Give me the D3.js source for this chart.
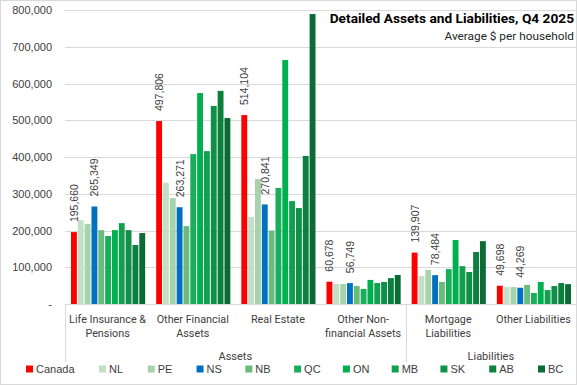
<!DOCTYPE html>
<html>
<head>
<meta charset="utf-8">
<script src="https://cdn.jsdelivr.net/npm/d3@7"></script>
<style>
  body { margin: 0; background: #fff; }
  svg { display: block; }
</style>
</head>
<body>
<div id="chart"></div>
<script>
// categories and series
var categories = [
  ["Life Insurance &", "Pensions"],
  ["Other Financial", "Assets"],
  ["Real Estate"],
  ["Other Non-", "financial Assets"],
  ["Mortgage", "Liabilities"],
  ["Other Liabilities"]
];
var groups = ["Assets", "Liabilities"];
var groupSpans = [[0, 3], [4, 5]]; // first and last category of each group
var regions = ["Canada", "NL", "PE", "NS", "NB", "QC", "ON", "MB", "SK", "AB", "BC"];
var colors = ["#ff0000", "#c3e0c6", "#a6d3ab", "#0070c0", "#6cbb7e", "#1aae5c", "#00b050", "#12a04f", "#0f9046", "#0d8040", "#0b6b35"];

var Canada = [195660, 497806, 514104, 60678, 139907, 49698];
var NL = [228000, 330000, 237000, 54500, 76000, 46000];
var PE = [218000, 288000, 340000, 54500, 92500, 46000];
var NS = [265349, 263271, 270841, 56749, 78484, 44269];
var NB = [201000, 212000, 200000, 49000, 60000, 52000];
var QC = [185000, 408000, 316000, 41000, 95000, 30000];
var ON = [201000, 574000, 664000, 65500, 174000, 60000];
var MB = [220000, 416000, 280000, 57000, 103000, 38000];
var SK = [201000, 539000, 261000, 60000, 87000, 49000];
var AB = [160500, 580000, 403000, 70500, 141500, 57000];
var BC = [193000, 506000, 789000, 79000, 171000, 54000];
var seriesValues = [Canada, NL, PE, NS, NB, QC, ON, MB, SK, AB, BC];
var labelledSeries = ["Canada", "NS"];
var yTicks = [0, 100000, 200000, 300000, 400000, 500000, 600000, 700000, 800000];

var width = 577, height = 385;
var margin = {top: 10, right: 1, bottom: 81, left: 65};
var plotW = width - margin.left - margin.right;
var plotH = height - margin.top - margin.bottom;
var numFont = "'Liberation Sans', Arial, sans-serif";
var txtFont = "Roboto, 'Open Sans', sans-serif";
var gridColor = "#d9d9d9";

var svg = d3.select("#chart").append("svg")
  .attr("width", width)
  .attr("height", height);

// chart border
svg.append("rect")
  .attr("x", 0.5).attr("y", 0.5)
  .attr("width", width - 1).attr("height", height - 1)
  .attr("fill", "#fff").attr("stroke", gridColor);

var g = svg.append("g").attr("transform", "translate(" + margin.left + "," + margin.top + ")");

var y = d3.scaleLinear().domain([0, 800000]).range([plotH, 0]);
var x0 = d3.scaleBand().domain(d3.range(categories.length)).range([0, plotW]).padding(0);
var x1 = d3.scaleBand().domain(regions).range([6, x0.bandwidth() - 5]).paddingInner(0.14);

// gridlines
g.selectAll(".grid").data(yTicks.slice(1)).enter().append("line")
  .attr("x1", 0).attr("x2", plotW)
  .attr("y1", function(d) { return Math.round(y(d)) + 0.5; })
  .attr("y2", function(d) { return Math.round(y(d)) + 0.5; })
  .attr("stroke", gridColor);

// y axis labels
var yAxis = g.append("g")
  .call(d3.axisLeft(y).tickValues(yTicks).tickSize(0).tickPadding(13)
    .tickFormat(function(d) { return d === 0 ? "-  " : d3.format(",")(d); }));
yAxis.select(".domain").remove();
yAxis.selectAll("text")
  .attr("font-family", numFont).attr("font-size", 11).attr("fill", "#404040");

// bars
var rows = [];
seriesValues.forEach(function(vals, si) {
  vals.forEach(function(v, ci) {
    rows.push({region: regions[si], color: colors[si], cat: ci, value: v});
  });
});

g.selectAll(".bar").data(rows).enter().append("rect")
  .attr("x", function(d) { return x0(d.cat) + x1(d.region); })
  .attr("y", function(d) { return y(d.value); })
  .attr("width", x1.bandwidth())
  .attr("height", function(d) { return plotH - y(d.value); })
  .attr("fill", function(d) { return d.color; });

// rotated data labels on Canada and NS
g.selectAll(".lbl").data(rows.filter(function(d) { return labelledSeries.indexOf(d.region) >= 0; }))
  .enter().append("text")
  .attr("transform", function(d) {
    var cx = x0(d.cat) + x1(d.region) + x1.bandwidth() / 2 + 4;
    return "translate(" + cx + "," + (y(d.value) - 10) + ") rotate(-90)";
  })
  .attr("font-family", numFont).attr("font-size", 10.5).attr("fill", "#404040")
  .text(function(d) { return d3.format(",")(d.value); });

// category axis
g.append("line")
  .attr("x1", 0).attr("x2", plotW)
  .attr("y1", plotH + 0.5).attr("y2", plotH + 0.5)
  .attr("stroke", gridColor);

var sepX = [0, x0(groupSpans[1][0])];
g.selectAll(".sep").data(sepX).enter().append("line")
  .attr("x1", function(d) { return Math.round(d) + 0.5; })
  .attr("x2", function(d) { return Math.round(d) + 0.5; })
  .attr("y1", plotH).attr("y2", plotH + 58)
  .attr("stroke", gridColor);

var catLabels = g.selectAll(".cat").data(categories).enter().append("text")
  .attr("x", function(d, i) { return x0(i) + x0.bandwidth() / 2; })
  .attr("y", plotH + 19)
  .attr("text-anchor", "middle")
  .attr("font-family", txtFont).attr("font-size", 10.8).attr("fill", "#404040");
catLabels.selectAll("tspan").data(function(d) { return d; }).enter().append("tspan")
  .attr("x", function() { return d3.select(this.parentNode).attr("x"); })
  .attr("dy", function(d, i) { return i === 0 ? 0 : 14; })
  .text(function(d) { return d; });

g.selectAll(".grp").data(groups).enter().append("text")
  .attr("x", function(d, i) {
    var s = groupSpans[i];
    return (x0(s[0]) + x0(s[1]) + x0.bandwidth()) / 2;
  })
  .attr("y", plotH + 56)
  .attr("text-anchor", "middle")
  .attr("font-family", txtFont).attr("font-size", 11).attr("fill", "#404040")
  .text(function(d) { return d; });

// title
svg.append("text")
  .attr("x", 574).attr("y", 23)
  .attr("text-anchor", "end")
  .attr("font-family", txtFont).attr("font-size", 13.7).attr("font-weight", "bold").attr("fill", "#000")
  .text("Detailed Assets and Liabilities, Q4 2025");
svg.append("text")
  .attr("x", 574).attr("y", 39.5)
  .attr("text-anchor", "end")
  .attr("font-family", txtFont).attr("font-size", 11.8).attr("fill", "#262626")
  .text("Average $ per household");

// legend
var legendX = d3.scaleLinear().domain([1, regions.length - 1]).range([99, 538]);
var legend = svg.selectAll(".leg").data(regions).enter().append("g")
  .attr("transform", function(d, i) {
    var lx = i === 0 ? 26 : legendX(i);
    return "translate(" + lx + ",369)";
  });
legend.append("rect")
  .attr("x", 0).attr("y", -3.5).attr("width", 7).attr("height", 7)
  .attr("fill", function(d, i) { return colors[i]; });
legend.append("text")
  .attr("x", 10).attr("y", 4)
  .attr("font-family", numFont).attr("font-size", 11).attr("fill", "#404040")
  .text(function(d) { return d; });
</script>
</body>
</html>
